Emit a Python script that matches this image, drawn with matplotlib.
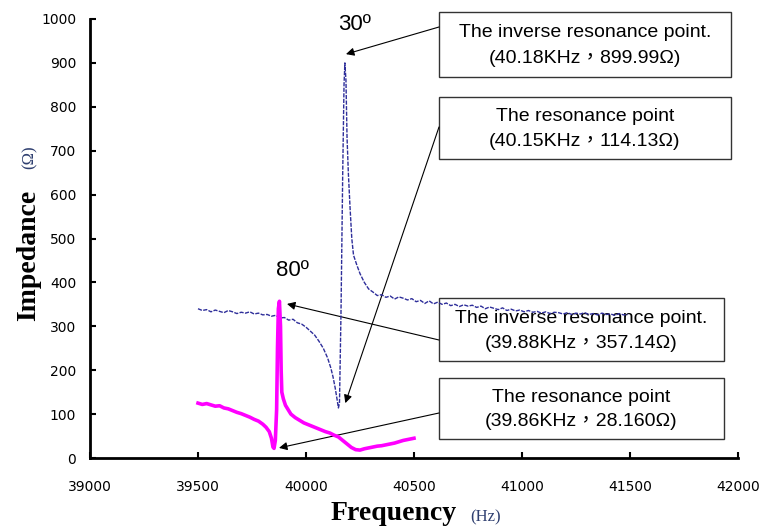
import matplotlib
matplotlib.use("Agg")
import matplotlib.pyplot as plt
from matplotlib.patches import Rectangle

# 30 degree measurement (blue)
freq_30 = [39500, 39520, 39540, 39560, 39580, 39600, 39620, 39640, 39660, 39680,
           39700, 39720, 39740, 39760, 39780, 39800, 39820, 39840, 39860, 39880,
           39900, 39920, 39940, 39960, 39980, 40000, 40020, 40040, 40060, 40080,
           40100, 40115, 40125, 40135, 40145, 40150, 40155, 40162, 40170, 40176,
           40180, 40185, 40190, 40196, 40204, 40212, 40220, 40235, 40250, 40270,
           40290, 40310, 40330, 40350, 40370, 40390, 40410, 40430, 40450, 40470,
           40490, 40510, 40530, 40550, 40570, 40590, 40610, 40630, 40650, 40670,
           40690, 40710, 40730, 40750, 40770, 40790, 40810, 40830, 40850, 40870,
           40890, 40910, 40930, 40950, 40970, 40990, 41010, 41030, 41050, 41070,
           41090, 41110, 41130, 41150, 41170, 41190, 41210, 41230, 41250, 41270,
           41290, 41310, 41330, 41350, 41370, 41390, 41410, 41430, 41450, 41470,
           41490]
imp_30 = [340, 336, 338, 333, 337, 334, 331, 336, 333, 329,
          332, 330, 333, 328, 330, 326, 327, 323, 325, 319,
          320, 314, 316, 308, 305, 298, 289, 280, 266, 250,
          228, 205, 185, 160, 130, 114, 125, 330, 650, 850,
          900, 860, 730, 650, 570, 500, 462, 440, 420, 400,
          385, 378, 370, 372, 366, 369, 362, 367, 364, 360,
          363, 356, 359, 352, 358, 351, 355, 350, 353, 347,
          350, 345, 349, 346, 348, 343, 346, 340, 344, 341,
          338, 342, 336, 339, 335, 337, 333, 336, 332, 334,
          330, 333, 329, 332, 331, 328, 331, 327, 330, 328,
          331, 327, 329, 326, 330, 327, 328, 325, 329, 326,
          327]

# 80 degree measurement (magenta)
freq_80 = [39500, 39520, 39540, 39560, 39580, 39600, 39620, 39640, 39660, 39680,
           39700, 39720, 39740, 39760, 39780, 39800, 39815, 39830, 39840, 39847,
           39852, 39858, 39864, 39868, 39872, 39877, 39882, 39885, 39888, 39895,
           39905, 39915, 39930, 39950, 39970, 39990, 40010, 40030, 40050, 40070,
           40090, 40110, 40130, 40150, 40170, 40190, 40210, 40230, 40250, 40270,
           40290, 40310, 40330, 40350, 40370, 40390, 40410, 40430, 40450, 40470,
           40490, 40500]
imp_80 = [125, 122, 124, 121, 118, 119, 114, 112, 108, 104,
          101, 97, 93, 88, 84, 77, 70, 60, 45, 25,
          22, 40, 110, 250, 340, 357, 300, 200, 150, 135,
          120, 112, 100, 92, 86, 80, 76, 72, 68, 64,
          60, 57, 52, 48, 40, 32, 24, 19, 18, 21,
          23, 25, 27, 28, 30, 32, 34, 37, 40, 42,
          44, 45]

note_titles = ["The inverse resonance point.", "The resonance point",
               "The inverse resonance point.", "The resonance point"]
note_values = ["(40.18KHz，899.99Ω)", "(40.15KHz，114.13Ω)",
               "(39.88KHz，357.14Ω)", "(39.86KHz，28.160Ω)"]
arrow_targets = [(40185, 920), (40182, 125), (39912, 351), (39875, 23)]

W, H = 760, 531


def px(x, y):
    return x / W, 1 - y / H


fig = plt.figure(figsize=(7.6, 5.31), dpi=100)
ax = fig.add_axes([90 / W, 1 - 458 / H, (738 - 90) / W, (458 - 19) / H])

ax.plot(freq_30, imp_30, color="#2E2E9A", lw=1.0, ls=(0, (3, 1)), zorder=5)
ax.plot(freq_80, imp_80, color="#FF00FF", lw=2.6, zorder=5)

ax.set_xlim(39000, 42000)
ax.set_ylim(0, 1000)
ax.set_xticks(range(39000, 42001, 500))
ax.set_yticks(range(0, 1001, 100))
ax.tick_params(axis="both", direction="in", length=4, width=1.5, labelsize=10)
ax.tick_params(axis="y", pad=10)
ax.tick_params(axis="x", pad=16)

for s in ["top", "right"]:
    ax.spines[s].set_visible(False)
for s in ["left", "bottom"]:
    ax.spines[s].set_linewidth(2)

# axis labels
serif = "Liberation Serif"
fig.text(*px(394, 514), "Frequency", ha="center", va="center",
         fontsize=20, fontweight="bold", family=serif)
fig.text(*px(486, 517), "(Hz)", ha="center", va="center",
         fontsize=12, family=serif, color="#2F3F70")
fig.text(*px(29, 255), "Impedance", ha="center", va="center", rotation=90,
         fontsize=20, fontweight="bold", family=serif)
fig.text(*px(30, 157), "(Ω)", ha="center", va="center", rotation=90,
         fontsize=12, family=serif, color="#2F3F70")

# angle labels
fig.text(*px(355, 24), "30º", ha="center", va="center", fontsize=16,
         family="Liberation Sans")
fig.text(*px(292, 270), "80º", ha="center", va="center", fontsize=16,
         family="Liberation Sans")

# annotation boxes (pixel geometry of the reference), drawn under the curves
boxes = [(439, 12, 731, 77), (439, 97, 731, 159),
         (439, 298, 724, 361), (439, 378, 724, 439)]
arrow_starts = [(439, 27), (439, 127), (439, 340), (439, 413)]
box_font = ["Liberation Sans", "Noto Sans CJK TC"]

for i, (x0, y0, x1, y1) in enumerate(boxes):
    fx0, fy1 = px(x0, y1)
    fx1, fy0 = px(x1, y0)
    ax.add_patch(Rectangle((fx0, fy1), fx1 - fx0, fy0 - fy1,
                           transform=fig.transFigure, facecolor="white",
                           edgecolor="#333333", lw=1.0, zorder=1,
                           clip_on=False))
    cx = (x0 + x1) / 2
    h = y1 - y0
    ax.text(*px(cx, y0 + h * 0.32), note_titles[i], ha="center", va="center",
            fontsize=14, family=box_font, zorder=2,
            transform=fig.transFigure)
    ax.text(*px(cx, y0 + h * 0.72), note_values[i], ha="center", va="center",
            fontsize=14, family=box_font, zorder=2,
            transform=fig.transFigure)
    ax.annotate("", xy=arrow_targets[i], xycoords="data",
                xytext=px(*arrow_starts[i]), textcoords="figure fraction",
                arrowprops=dict(arrowstyle="-|>", color="black", lw=0.8,
                                mutation_scale=12, shrinkA=0, shrinkB=0),
                annotation_clip=False, zorder=3)

fig.savefig("out.png", dpi=100, facecolor="white")
